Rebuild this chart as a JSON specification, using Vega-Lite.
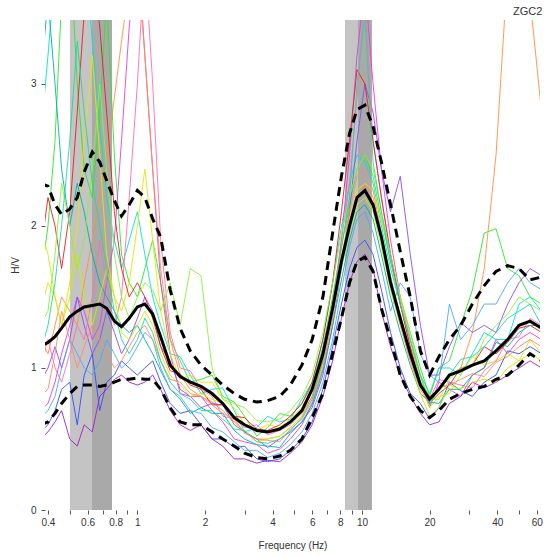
{
"$schema":"https://vega.github.io/schema/vega-lite/v6.json",
"width":495,"height":490,
"autosize":{"type":"none"},
"padding":{"left":45,"top":20,"right":13,"bottom":46},
"config":{"view":{"stroke":null},"font":"Liberation Sans",
 "axis":{"grid":false,"domain":false,"tickSize":4,"tickColor":"#555555","labelFontSize":10,"labelColor":"#333333","titleFontSize":10,"titleFontWeight":"normal","titleColor":"#333333"}},
"title":{"text":"ZGC2","anchor":"end","fontSize":11,"fontWeight":"normal","color":"#333333","offset":3},
"datasets":{
"bands":[{"a":0.501,"b":0.628,"c":"l"},{"a":0.628,"b":0.771,"c":"d"},{"a":8.4,"b":9.6,"c":"l"},{"a":9.6,"b":11.07,"c":"d"}],
"hv":[
{"hz":0.37,"avg":1.15,"up":2.3,"dn":0.6,"a":2.6,"b":1.6,"c":0.7,"d":1.2,"e":0.55,"f":0.9,"g":1.4,"h":1.0,"i":1.8,"j":3.0,"k":1.3,"l":0.65,"m":0.5,"n":2.0,"o":0.8,"p":1.1},
{"hz":0.40,"avg":1.18,"up":2.28,"dn":0.62,"a":3.2,"b":2.0,"c":0.75,"d":1.1,"e":0.6,"f":1.0,"g":1.6,"h":1.2,"i":2.2,"j":3.6,"k":1.4,"l":0.7,"m":0.55,"n":1.8,"o":0.85,"p":1.3},
{"hz":0.43,"avg":1.22,"up":2.15,"dn":0.68,"a":3.8,"b":2.6,"c":0.9,"d":1.3,"e":0.7,"f":1.15,"g":1.5,"h":1.0,"i":2.0,"j":3.0,"k":1.8,"l":0.8,"m":0.62,"n":1.5,"o":1.1,"p":1.6},
{"hz":0.46,"avg":1.28,"up":2.08,"dn":0.75,"a":4.2,"b":3.6,"c":1.1,"d":1.5,"e":0.85,"f":1.0,"g":1.3,"h":0.9,"i":1.7,"j":2.4,"k":2.3,"l":1.0,"m":0.7,"n":1.3,"o":1.4,"p":2.0},
{"hz":0.50,"avg":1.36,"up":2.12,"dn":0.82,"a":3.9,"b":4.0,"c":1.3,"d":1.4,"e":0.9,"f":1.2,"g":1.6,"h":1.1,"i":2.1,"j":2.0,"k":2.0,"l":1.2,"m":0.5,"n":1.5,"o":1.2,"p":2.6},
{"hz":0.54,"avg":1.40,"up":2.2,"dn":0.87,"a":3.6,"b":3.0,"c":1.5,"d":1.3,"e":0.6,"f":1.5,"g":2.0,"h":1.3,"i":2.8,"j":2.3,"k":1.7,"l":1.1,"m":0.45,"n":1.8,"o":1.0,"p":3.3},
{"hz":0.58,"avg":1.43,"up":2.38,"dn":0.88,"a":4.0,"b":2.4,"c":1.4,"d":1.6,"e":0.95,"f":1.3,"g":2.6,"h":1.2,"i":3.5,"j":2.1,"k":1.9,"l":1.0,"m":0.6,"n":1.5,"o":1.15,"p":2.8},
{"hz":0.63,"avg":1.44,"up":2.52,"dn":0.88,"a":3.3,"b":2.2,"c":1.2,"d":1.9,"e":1.1,"f":1.1,"g":3.2,"h":1.5,"i":3.9,"j":1.8,"k":2.4,"l":0.95,"m":0.55,"n":1.3,"o":1.3,"p":2.3},
{"hz":0.68,"avg":1.45,"up":2.45,"dn":0.87,"a":2.7,"b":2.8,"c":1.3,"d":2.2,"e":0.7,"f":1.2,"g":2.5,"h":1.9,"i":3.4,"j":1.6,"k":3.0,"l":1.05,"m":0.8,"n":1.5,"o":1.2,"p":2.0},
{"hz":0.73,"avg":1.42,"up":2.32,"dn":0.88,"a":2.2,"b":3.6,"c":1.6,"d":2.5,"e":0.9,"f":1.4,"g":1.8,"h":1.6,"i":2.8,"j":1.5,"k":2.4,"l":1.2,"m":0.85,"n":1.7,"o":1.1,"p":1.7},
{"hz":0.79,"avg":1.33,"up":2.18,"dn":0.9,"a":1.9,"b":2.5,"c":1.9,"d":2.9,"e":0.95,"f":1.25,"g":1.5,"h":1.3,"i":2.1,"j":1.4,"k":1.8,"l":1.1,"m":0.92,"n":1.5,"o":1.0,"p":1.4},
{"hz":0.85,"avg":1.29,"up":2.07,"dn":0.92,"a":1.7,"b":1.8,"c":2.6,"d":3.3,"e":1.05,"f":1.1,"g":1.4,"h":1.5,"i":1.7,"j":1.3,"k":1.5,"l":1.0,"m":0.95,"n":1.25,"o":1.05,"p":1.2},
{"hz":0.92,"avg":1.35,"up":2.15,"dn":0.92,"a":1.9,"b":1.6,"c":3.4,"d":3.7,"e":1.0,"f":1.2,"g":1.6,"h":2.2,"i":1.5,"j":1.25,"k":1.35,"l":1.05,"m":0.9,"n":1.2,"o":1.15,"p":1.1},
{"hz":1.0,"avg":1.43,"up":2.25,"dn":0.93,"a":2.1,"b":1.5,"c":4.0,"d":3.9,"e":0.95,"f":1.35,"g":2.0,"h":3.0,"i":1.6,"j":1.3,"k":1.5,"l":1.15,"m":0.88,"n":1.3,"o":1.25,"p":1.2},
{"hz":1.08,"avg":1.45,"up":2.2,"dn":0.92,"a":1.8,"b":1.7,"c":3.2,"d":3.2,"e":1.0,"f":1.5,"g":2.4,"h":3.9,"i":1.5,"j":1.2,"k":1.6,"l":1.25,"m":0.9,"n":1.4,"o":1.3,"p":1.35},
{"hz":1.17,"avg":1.38,"up":2.05,"dn":0.92,"a":1.5,"b":1.9,"c":2.4,"d":2.4,"e":1.05,"f":1.4,"g":1.9,"h":3.0,"i":1.35,"j":1.1,"k":1.55,"l":1.2,"m":0.95,"n":1.3,"o":1.2,"p":1.25},
{"hz":1.27,"avg":1.22,"up":1.92,"dn":0.85,"a":1.3,"b":1.6,"c":1.6,"d":1.7,"e":0.9,"f":1.15,"g":1.4,"h":1.9,"i":1.15,"j":0.98,"k":1.4,"l":1.0,"m":0.85,"n":1.1,"o":1.05,"p":1.05},
{"hz":1.4,"avg":1.02,"up":1.55,"dn":0.72,"a":1.1,"b":1.2,"c":1.1,"d":1.2,"e":0.75,"f":1.05,"g":1.1,"h":1.25,"i":0.98,"j":0.85,"k":1.6,"l":0.85,"m":0.7,"n":0.95,"o":0.92,"p":0.9},
{"hz":1.55,"avg":0.94,"up":1.28,"dn":0.62,"a":1.08,"b":1.05,"c":0.82,"d":0.95,"e":0.68,"f":0.85,"g":0.92,"h":1.0,"i":0.96,"j":0.78,"k":1.3,"l":0.8,"m":0.6,"n":0.88,"o":0.9,"p":0.82},
{"hz":1.72,"avg":0.9,"up":1.12,"dn":0.6,"a":0.95,"b":0.9,"c":0.8,"d":0.85,"e":0.7,"f":0.8,"g":0.95,"h":0.98,"i":0.88,"j":0.68,"k":1.7,"l":0.7,"m":0.56,"n":0.8,"o":0.82,"p":0.78},
{"hz":1.92,"avg":0.87,"up":1.02,"dn":0.6,"a":0.82,"b":0.92,"c":0.8,"d":0.8,"e":0.6,"f":0.72,"g":0.9,"h":0.85,"i":0.85,"j":0.72,"k":1.65,"l":0.68,"m":0.6,"n":0.82,"o":0.8,"p":0.7},
{"hz":2.15,"avg":0.82,"up":0.95,"dn":0.55,"a":0.85,"b":0.95,"c":0.7,"d":0.76,"e":0.5,"f":0.75,"g":0.9,"h":0.8,"i":0.74,"j":0.68,"k":1.0,"l":0.58,"m":0.5,"n":0.78,"o":0.74,"p":0.7},
{"hz":2.4,"avg":0.75,"up":0.88,"dn":0.5,"a":0.86,"b":0.8,"c":0.62,"d":0.7,"e":0.5,"f":0.74,"g":0.78,"h":0.66,"i":0.74,"j":0.68,"k":0.78,"l":0.55,"m":0.45,"n":0.75,"o":0.68,"p":0.64},
{"hz":2.7,"avg":0.65,"up":0.82,"dn":0.45,"a":0.7,"b":0.76,"c":0.5,"d":0.62,"e":0.44,"f":0.6,"g":0.72,"h":0.64,"i":0.66,"j":0.56,"k":0.75,"l":0.48,"m":0.36,"n":0.62,"o":0.64,"p":0.57},
{"hz":3.0,"avg":0.6,"up":0.78,"dn":0.4,"a":0.55,"b":0.66,"c":0.48,"d":0.55,"e":0.45,"f":0.55,"g":0.6,"h":0.58,"i":0.65,"j":0.5,"k":0.72,"l":0.42,"m":0.36,"n":0.56,"o":0.54,"p":0.56},
{"hz":3.4,"avg":0.56,"up":0.76,"dn":0.37,"a":0.58,"b":0.52,"c":0.46,"d":0.5,"e":0.36,"f":0.5,"g":0.56,"h":0.6,"i":0.57,"j":0.46,"k":0.63,"l":0.42,"m":0.33,"n":0.48,"o":0.5,"p":0.48},
{"hz":3.8,"avg":0.55,"up":0.77,"dn":0.36,"a":0.66,"b":0.58,"c":0.4,"d":0.5,"e":0.34,"f":0.44,"g":0.6,"h":0.53,"i":0.56,"j":0.45,"k":0.62,"l":0.37,"m":0.35,"n":0.5,"o":0.49,"p":0.47},
{"hz":4.3,"avg":0.57,"up":0.8,"dn":0.38,"a":0.62,"b":0.68,"c":0.43,"d":0.52,"e":0.36,"f":0.5,"g":0.58,"h":0.56,"i":0.6,"j":0.44,"k":0.64,"l":0.4,"m":0.34,"n":0.52,"o":0.48,"p":0.5},
{"hz":4.8,"avg":0.62,"up":0.88,"dn":0.42,"a":0.64,"b":0.66,"c":0.5,"d":0.58,"e":0.42,"f":0.55,"g":0.64,"h":0.6,"i":0.66,"j":0.54,"k":0.7,"l":0.46,"m":0.4,"n":0.58,"o":0.57,"p":0.56},
{"hz":5.4,"avg":0.7,"up":1.02,"dn":0.5,"a":0.78,"b":0.75,"c":0.6,"d":0.66,"e":0.5,"f":0.62,"g":0.72,"h":0.68,"i":0.75,"j":0.62,"k":0.8,"l":0.55,"m":0.48,"n":0.66,"o":0.64,"p":0.65},
{"hz":6.0,"avg":0.85,"up":1.2,"dn":0.65,"a":0.9,"b":0.88,"c":0.75,"d":0.8,"e":0.62,"f":0.72,"g":0.85,"h":0.8,"i":0.9,"j":0.74,"k":0.95,"l":0.68,"m":0.6,"n":0.78,"o":0.76,"p":0.78},
{"hz":6.7,"avg":1.1,"up":1.5,"dn":0.82,"a":1.2,"b":1.15,"c":1.0,"d":1.05,"e":0.85,"f":0.95,"g":1.1,"h":1.05,"i":1.2,"j":0.98,"k":1.25,"l":0.9,"m":0.8,"n":1.02,"o":1.0,"p":1.05},
{"hz":7.4,"avg":1.42,"up":1.95,"dn":1.1,"a":1.6,"b":1.5,"c":1.4,"d":1.4,"e":1.15,"f":1.3,"g":1.45,"h":1.45,"i":1.6,"j":1.3,"k":1.6,"l":1.2,"m":1.05,"n":1.35,"o":1.35,"p":1.45},
{"hz":8.1,"avg":1.75,"up":2.35,"dn":1.35,"a":2.0,"b":1.85,"c":1.9,"d":1.75,"e":1.45,"f":1.7,"g":1.8,"h":1.9,"i":2.1,"j":1.62,"k":1.95,"l":1.55,"m":1.35,"n":1.7,"o":1.75,"p":1.85},
{"hz":8.8,"avg":2.0,"up":2.65,"dn":1.6,"a":2.3,"b":2.15,"c":2.5,"d":2.0,"e":1.7,"f":2.1,"g":2.05,"h":2.3,"i":2.6,"j":1.9,"k":2.2,"l":1.85,"m":1.6,"n":1.95,"o":2.1,"p":2.2},
{"hz":9.5,"avg":2.2,"up":2.82,"dn":1.75,"a":2.5,"b":2.4,"c":3.2,"d":2.2,"e":1.85,"f":2.6,"g":2.25,"h":2.9,"i":3.1,"j":2.1,"k":2.4,"l":2.05,"m":1.75,"n":2.15,"o":2.35,"p":3.0},
{"hz":10.3,"avg":2.25,"up":2.85,"dn":1.78,"a":2.45,"b":2.5,"c":3.7,"d":2.3,"e":1.9,"f":3.0,"g":2.3,"h":3.6,"i":3.0,"j":2.15,"k":2.5,"l":2.1,"m":1.8,"n":2.2,"o":2.4,"p":3.5},
{"hz":11.2,"avg":2.15,"up":2.7,"dn":1.68,"a":2.3,"b":2.35,"c":3.0,"d":2.2,"e":1.8,"f":2.8,"g":2.25,"h":2.6,"i":2.6,"j":2.05,"k":2.4,"l":1.95,"m":1.7,"n":2.1,"o":2.25,"p":2.45},
{"hz":12.2,"avg":1.92,"up":2.45,"dn":1.42,"a":2.0,"b":2.05,"c":2.4,"d":1.95,"e":1.55,"f":2.4,"g":2.05,"h":2.2,"i":2.2,"j":1.8,"k":2.1,"l":1.7,"m":1.4,"n":1.85,"o":1.95,"p":2.1},
{"hz":13.4,"avg":1.6,"up":2.15,"dn":1.2,"a":1.7,"b":1.75,"c":1.9,"d":1.65,"e":1.25,"f":2.1,"g":1.8,"h":1.8,"i":1.8,"j":1.5,"k":1.8,"l":1.4,"m":1.15,"n":1.55,"o":1.6,"p":1.75},
{"hz":14.8,"avg":1.35,"up":1.82,"dn":0.95,"a":1.45,"b":1.5,"c":1.5,"d":1.35,"e":1.0,"f":2.35,"g":1.5,"h":1.45,"i":1.45,"j":1.25,"k":1.5,"l":1.6,"m":0.95,"n":1.3,"o":1.3,"p":1.45},
{"hz":16.4,"avg":1.1,"up":1.5,"dn":0.8,"a":1.2,"b":1.25,"c":1.2,"d":1.1,"e":0.82,"f":1.8,"g":1.2,"h":1.15,"i":1.15,"j":1.02,"k":1.25,"l":1.5,"m":0.8,"n":1.05,"o":1.05,"p":1.2},
{"hz":18.2,"avg":0.88,"up":1.12,"dn":0.7,"a":0.95,"b":1.0,"c":0.9,"d":0.9,"e":0.75,"f":1.3,"g":0.92,"h":0.9,"i":0.88,"j":0.82,"k":0.95,"l":1.1,"m":0.68,"n":0.82,"o":0.85,"p":0.95},
{"hz":20,"avg":0.78,"up":0.95,"dn":0.65,"a":0.82,"b":0.8,"c":0.72,"d":0.8,"e":0.64,"f":0.95,"g":0.72,"h":0.78,"i":0.75,"j":0.76,"k":0.78,"l":0.95,"m":0.6,"n":0.66,"o":0.74,"p":0.74},
{"hz":22,"avg":0.85,"up":1.08,"dn":0.7,"a":1.0,"b":1.0,"c":0.9,"d":0.85,"e":0.72,"f":0.95,"g":0.8,"h":0.92,"i":0.82,"j":0.75,"k":0.78,"l":0.9,"m":0.62,"n":0.72,"o":0.86,"p":0.86},
{"hz":24.5,"avg":0.95,"up":1.2,"dn":0.78,"a":1.0,"b":1.05,"c":0.85,"d":0.95,"e":0.9,"f":1.15,"g":0.82,"h":0.9,"i":0.88,"j":0.85,"k":0.92,"l":1.45,"m":0.75,"n":0.88,"o":0.88,"p":0.95},
{"hz":27.5,"avg":0.98,"up":1.3,"dn":0.82,"a":0.95,"b":1.3,"c":0.8,"d":1.0,"e":0.84,"f":1.32,"g":0.95,"h":0.88,"i":1.0,"j":0.85,"k":1.0,"l":1.2,"m":0.8,"n":0.85,"o":0.92,"p":1.06},
{"hz":31,"avg":1.02,"up":1.45,"dn":0.85,"a":1.1,"b":1.55,"c":0.95,"d":1.25,"e":0.8,"f":1.25,"g":1.08,"h":0.86,"i":1.02,"j":0.95,"k":1.02,"l":1.3,"m":0.9,"n":0.9,"o":0.96,"p":1.08},
{"hz":35,"avg":1.05,"up":1.58,"dn":0.87,"a":1.25,"b":1.95,"c":1.0,"d":1.7,"e":0.9,"f":1.3,"g":1.02,"h":0.98,"i":1.15,"j":1.0,"k":1.2,"l":1.45,"m":0.86,"n":0.92,"o":0.94,"p":1.15},
{"hz":39.5,"avg":1.12,"up":1.68,"dn":0.92,"a":1.2,"b":1.98,"c":1.2,"d":2.5,"e":0.95,"f":1.25,"g":1.05,"h":1.05,"i":1.1,"j":1.18,"k":1.3,"l":1.45,"m":0.9,"n":0.9,"o":1.04,"p":1.25},
{"hz":44.5,"avg":1.2,"up":1.72,"dn":0.95,"a":1.2,"b":1.7,"c":1.1,"d":3.8,"e":1.12,"f":1.45,"g":1.1,"h":1.2,"i":1.18,"j":1.15,"k":1.38,"l":1.6,"m":0.95,"n":1.0,"o":1.08,"p":1.35},
{"hz":50,"avg":1.3,"up":1.7,"dn":1.02,"a":1.45,"b":1.65,"c":1.2,"d":3.9,"e":1.1,"f":1.6,"g":1.05,"h":1.22,"i":1.28,"j":1.25,"k":1.5,"l":1.7,"m":1.0,"n":1.05,"o":1.15,"p":1.4},
{"hz":56,"avg":1.33,"up":1.62,"dn":1.1,"a":1.5,"b":1.5,"c":1.25,"d":3.6,"e":1.15,"f":1.7,"g":1.2,"h":1.35,"i":1.3,"j":1.3,"k":1.45,"l":1.6,"m":1.05,"n":1.1,"o":1.2,"p":1.45},
{"hz":63,"avg":1.28,"up":1.64,"dn":1.05,"a":1.4,"b":1.45,"c":1.2,"d":2.8,"e":1.1,"f":1.65,"g":1.1,"h":1.3,"i":1.25,"j":1.3,"k":1.4,"l":1.55,"m":1.0,"n":1.05,"o":1.15,"p":1.3}
]},
"layer":[
{"data":{"name":"bands"},
 "mark":{"type":"rect"},
 "encoding":{
  "x":{"field":"a","type":"quantitative","scale":{"type":"log","domain":[0.388,62],"nice":false},
   "axis":{"title":"Frequency (Hz)","values":[0.4,0.5,0.6,0.7,0.8,0.9,1,2,3,4,5,6,7,8,9,10,20,30,40,50,60],"format":"~g",
    "labelExpr":"indexof([0.5,0.7,0.9,3,5,7,9,30,50], datum.value) >= 0 ? '' : datum.label",
    "labelPadding":3,"labelFlush":false,"labelOverlap":false,"titlePadding":13}},
  "x2":{"field":"b"},
  "y":{"datum":0,"type":"quantitative","scale":{"domain":[0,3.45],"nice":false,"zero":false},
   "axis":{"title":"H/V","values":[0,1,2,3],"format":"~g","labelPadding":5,"titlePadding":10}},
  "y2":{"datum":3.45},
  "color":{"field":"c","type":"nominal","scale":{"domain":["l","d"],"range":["#c4c4c4","#a9a9a9"]},"legend":null}}},
{"data":{"name":"hv"},
 "transform":[{"fold":["a","b","c","d","e","f","g","h","i","j","k","l","m","n","o","p"],"as":["w","v"]}],
 "mark":{"type":"line","strokeWidth":1,"clip":true,"opacity":0.9},
 "encoding":{
  "x":{"field":"hz","type":"quantitative","scale":{"type":"log","domain":[0.388,62],"nice":false},"title":"Frequency (Hz)"},
  "y":{"field":"v","type":"quantitative","scale":{"domain":[0,3.45],"nice":false,"zero":false},"title":"H/V"},
  "color":{"field":"w","type":"nominal","legend":null,"scale":{"domain":["a","b","c","d","e","f","g","h","i","j","k","l","m","n","o","p"],
   "range":["#00e0e0","#2ee62e","#e040e0","#ff9040","#3050ff","#8a4dff","#e6e600","#ff6fae","#e82020","#00b3a4","#8cef3c","#4da6ff","#a020c8","#c8f000","#ff8a70","#20d8a0"]}}}},
{"data":{"name":"hv"},
 "mark":{"type":"line","color":"black","strokeWidth":3,"clip":true},
 "encoding":{
  "x":{"field":"hz","type":"quantitative","scale":{"type":"log","domain":[0.388,62],"nice":false},"title":"Frequency (Hz)"},
  "y":{"field":"avg","type":"quantitative","scale":{"domain":[0,3.45],"nice":false,"zero":false},"title":"H/V"}}},
{"data":{"name":"hv"},
 "mark":{"type":"line","color":"black","strokeWidth":3,"strokeDash":[9,6],"clip":true},
 "encoding":{
  "x":{"field":"hz","type":"quantitative","scale":{"type":"log","domain":[0.388,62],"nice":false},"title":"Frequency (Hz)"},
  "y":{"field":"up","type":"quantitative","scale":{"domain":[0,3.45],"nice":false,"zero":false},"title":"H/V"}}},
{"data":{"name":"hv"},
 "mark":{"type":"line","color":"black","strokeWidth":3,"strokeDash":[9,6],"clip":true},
 "encoding":{
  "x":{"field":"hz","type":"quantitative","scale":{"type":"log","domain":[0.388,62],"nice":false},"title":"Frequency (Hz)"},
  "y":{"field":"dn","type":"quantitative","scale":{"domain":[0,3.45],"nice":false,"zero":false},"title":"H/V"}}}
],
"resolve":{"scale":{"color":"independent"}}
}
